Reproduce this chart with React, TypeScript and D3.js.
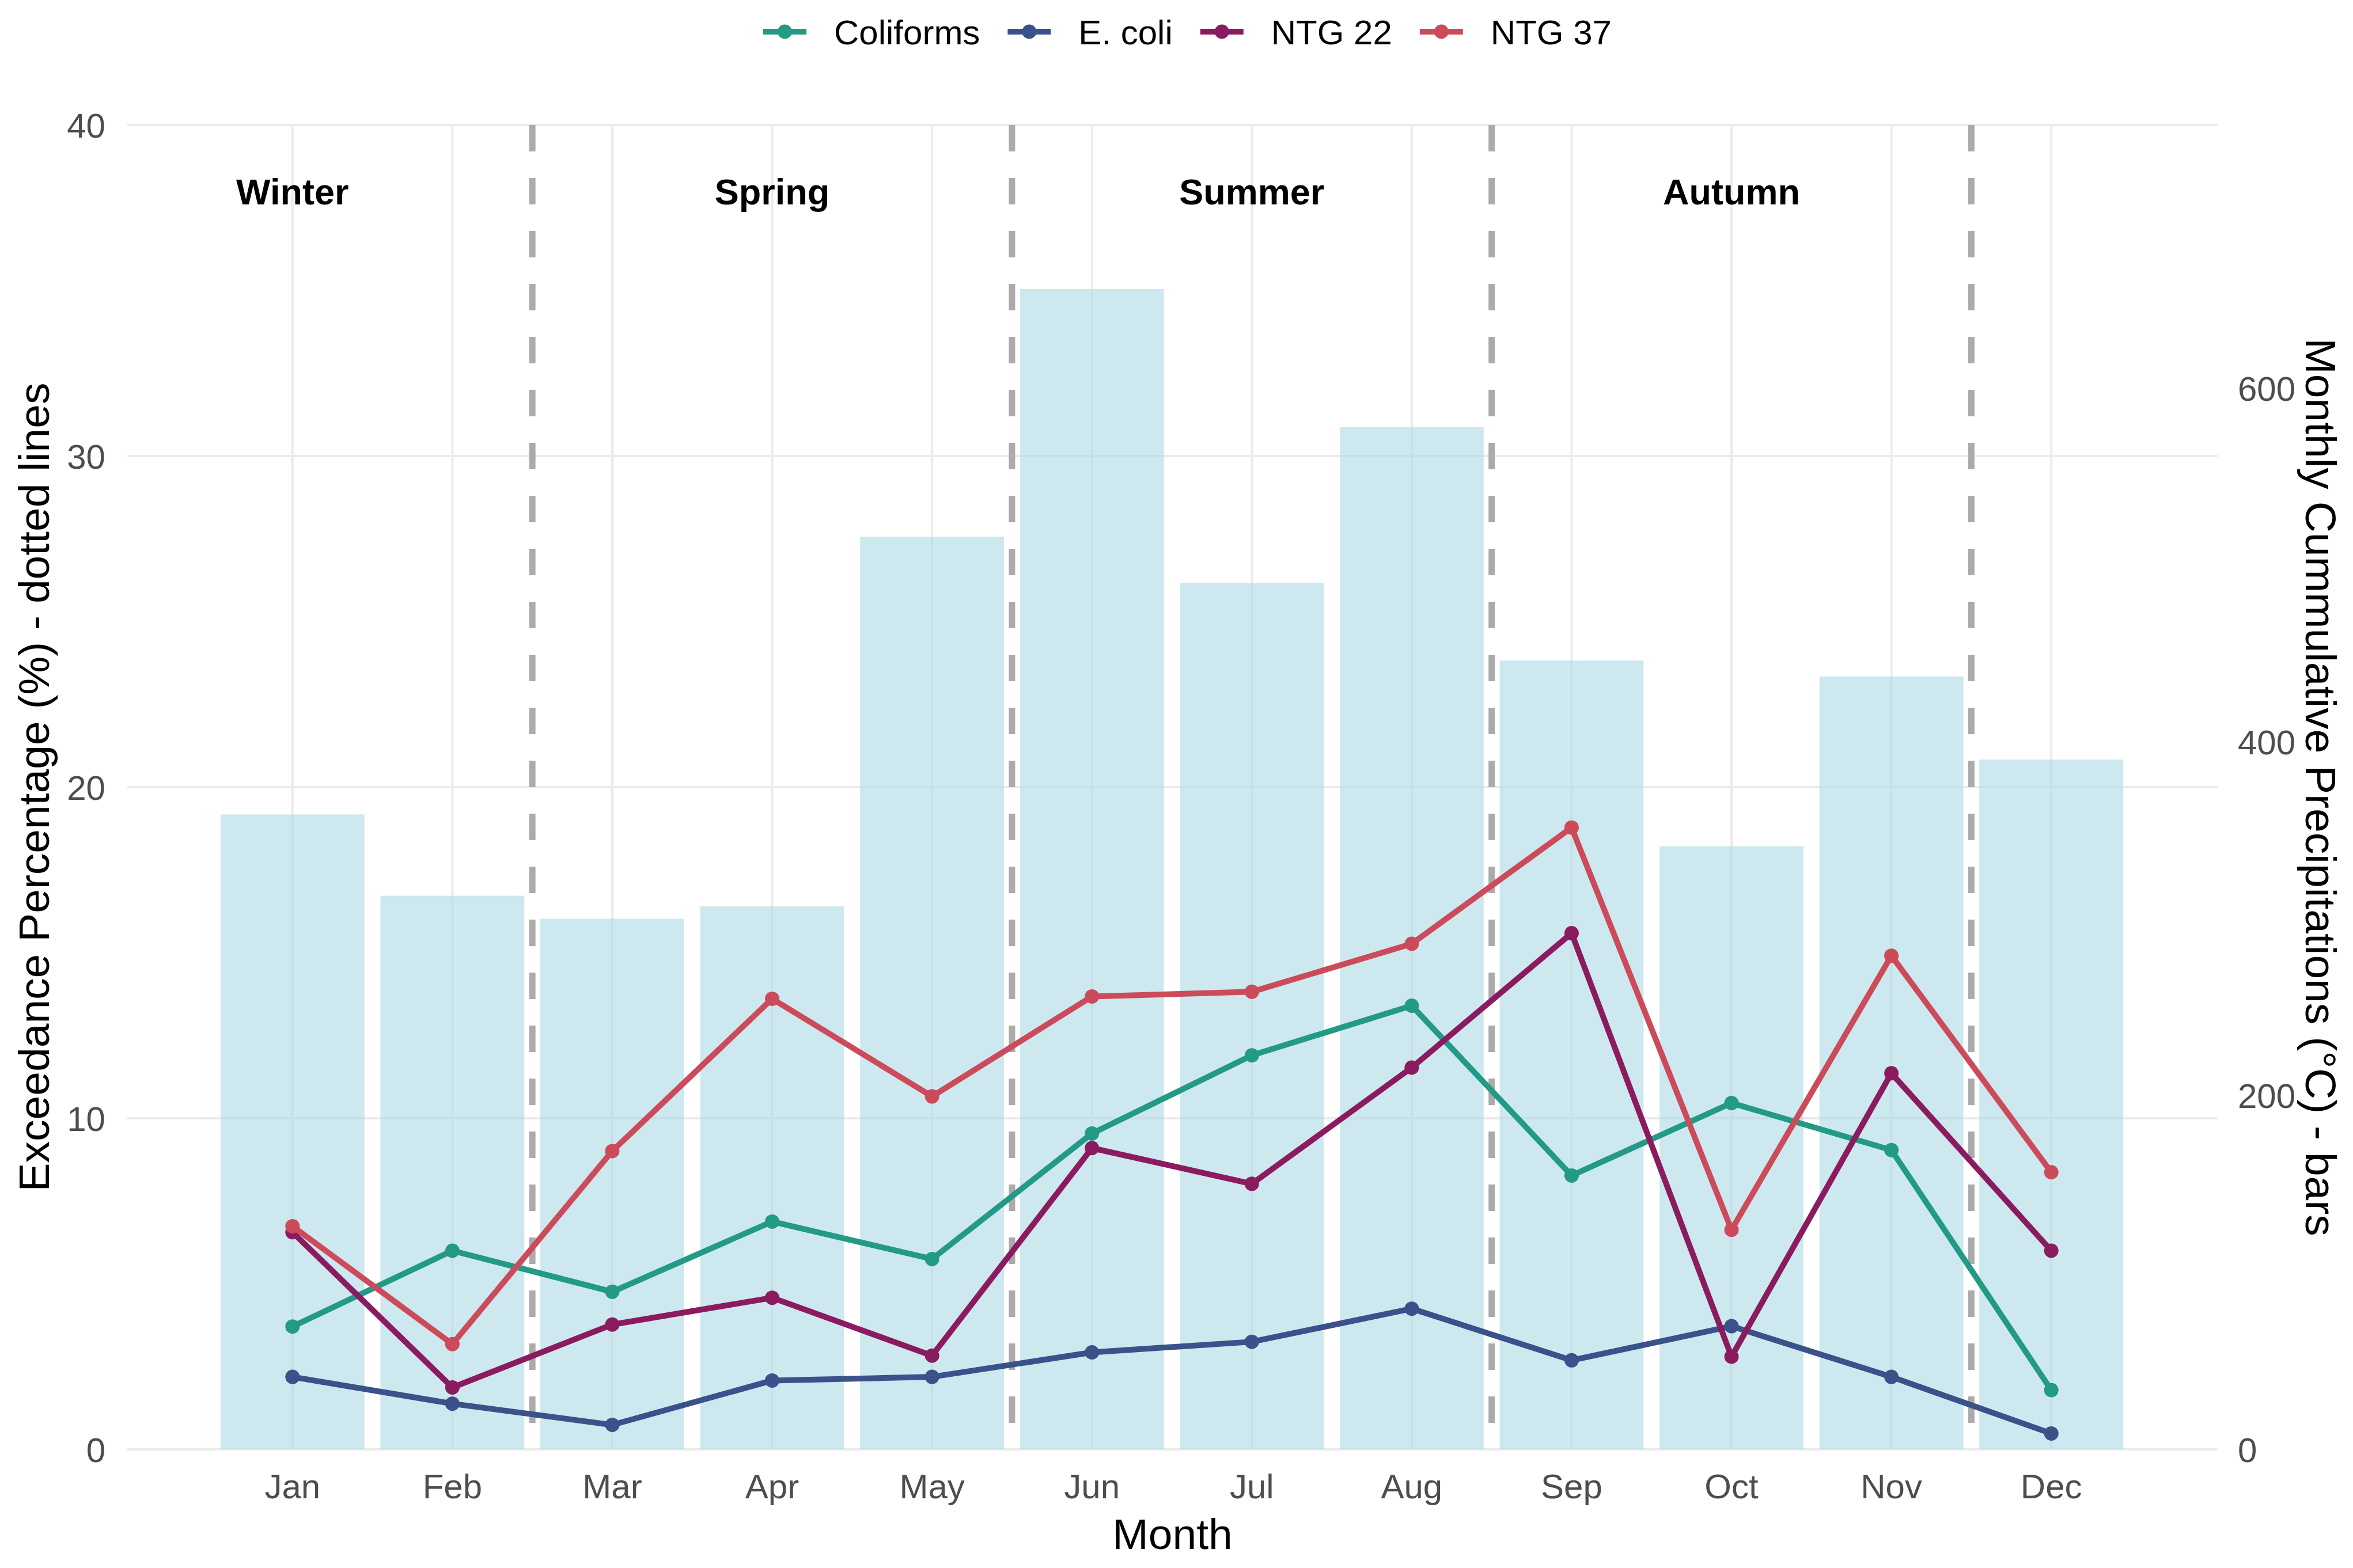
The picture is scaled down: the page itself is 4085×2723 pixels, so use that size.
import * as d3 from 'd3';
import React, { useEffect } from 'react';

const months = ['Jan', 'Feb', 'Mar', 'Apr', 'May', 'Jun', 'Jul', 'Aug', 'Sep', 'Oct', 'Nov', 'Dec'];
// monthly cumulative precipitation (right axis)
const precipitation = [359, 313, 300, 307, 516, 656, 490, 578, 446, 341, 437, 390];
// exceedance percentages (left axis)
const coliforms = [3.71, 6.0, 4.76, 6.88, 5.75, 9.54, 11.9, 13.4, 8.27, 10.46, 9.04, 1.79];
const eColi = [2.19, 1.38, 0.74, 2.08, 2.19, 2.93, 3.25, 4.25, 2.69, 3.72, 2.19, 0.48];
const ntg22 = [6.56, 1.87, 3.77, 4.58, 2.83, 9.1, 8.02, 11.53, 15.59, 2.8, 11.36, 6.0];
const ntg37 = [6.74, 3.18, 9.01, 13.61, 10.66, 13.68, 13.82, 15.27, 18.78, 6.63, 14.91, 8.37];

const seriesNames = ['Coliforms', 'E. coli', 'NTG 22', 'NTG 37'];
const seriesColors = ['#229a86', '#3b518a', '#8b1b60', '#cb4b5b'];

const seasonLabels = ['Winter', 'Spring', 'Summer', 'Autumn'];
const seasonMonths = ['Jan', 'Apr', 'Jul', 'Oct'];
const seasonBreaks = ['Feb', 'May', 'Aug', 'Nov'];

const leftTicks = [0, 10, 20, 30, 40];
const rightTicks = [0, 200, 400, 600];

const W = 4085;
const H = 2723;
const FONT = '"Liberation Sans", Arial, sans-serif';

export default function App() {
  const ref = React.useRef<HTMLDivElement>(null);

  useEffect(() => {
    if (!ref.current) return;
    ref.current.innerHTML = '';

    const panel = { left: 221, right: 3850, top: 217, bottom: 2517 };

    const svg = d3
      .select(ref.current)
      .append('svg')
      .attr('width', W)
      .attr('height', H)
      .style('display', 'block')
      .style('font-family', FONT);

    svg.append('rect').attr('width', W).attr('height', H).attr('fill', '#ffffff');

    const x = d3
      .scaleBand<string>()
      .domain(months)
      .range([369, 3700])
      .paddingInner(0.1)
      .paddingOuter(0.05);
    const cx = (m: string) => (x(m) ?? 0) + x.bandwidth() / 2;

    const y = d3.scaleLinear().domain([0, 40]).range([panel.bottom, panel.top]);
    // secondary axis: precipitation = percentage * 18.72
    const yRight = d3.scaleLinear().domain([0, 40 * 18.72]).range([panel.bottom, panel.top]);

    // Gridlines
    const grid = svg.append('g').attr('stroke', '#ebebeb').attr('stroke-width', 4);
    grid
      .selectAll('line.h')
      .data(leftTicks)
      .enter()
      .append('line')
      .attr('x1', panel.left)
      .attr('x2', panel.right)
      .attr('y1', d => y(d))
      .attr('y2', d => y(d));
    grid
      .selectAll('line.v')
      .data(months)
      .enter()
      .append('line')
      .attr('x1', d => cx(d))
      .attr('x2', d => cx(d))
      .attr('y1', panel.top)
      .attr('y2', panel.bottom);

    // Bars
    svg
      .append('g')
      .selectAll('rect')
      .data(precipitation)
      .enter()
      .append('rect')
      .attr('x', (d, i) => x(months[i]) ?? 0)
      .attr('width', x.bandwidth())
      .attr('y', d => yRight(d))
      .attr('height', d => yRight(0) - yRight(d))
      .attr('fill', 'lightblue')
      .attr('fill-opacity', 0.6);

    // Season separators
    svg
      .append('g')
      .selectAll('line')
      .data(seasonBreaks)
      .enter()
      .append('line')
      .attr('x1', d => cx(d) + x.step() / 2)
      .attr('x2', d => cx(d) + x.step() / 2)
      .attr('y1', panel.top)
      .attr('y2', panel.bottom)
      .attr('stroke', '#ababab')
      .attr('stroke-width', 11)
      .attr('stroke-dasharray', '46,46');

    // Lines + points
    const allSeries = [coliforms, eColi, ntg22, ntg37];
    const line = d3
      .line<number>()
      .x((d, i) => cx(months[i]))
      .y(d => y(d));
    allSeries.forEach((values, k) => {
      const g = svg.append('g');
      g.append('path')
        .attr('d', line(values))
        .attr('fill', 'none')
        .attr('stroke', seriesColors[k])
        .attr('stroke-width', 10)
        .attr('stroke-linejoin', 'round');
      g.selectAll('circle')
        .data(values)
        .enter()
        .append('circle')
        .attr('cx', (d, i) => cx(months[i]))
        .attr('cy', d => y(d))
        .attr('r', 12.5)
        .attr('fill', seriesColors[k]);
    });

    // Season labels
    svg
      .append('g')
      .selectAll('text')
      .data(seasonLabels)
      .enter()
      .append('text')
      .attr('x', (d, i) => cx(seasonMonths[i]))
      .attr('y', 355)
      .attr('text-anchor', 'middle')
      .attr('font-size', 63)
      .attr('font-weight', 'bold')
      .attr('fill', '#000')
      .text(d => d);

    // Left axis labels
    svg
      .append('g')
      .selectAll('text')
      .data(leftTicks)
      .enter()
      .append('text')
      .attr('x', 183)
      .attr('y', d => y(d))
      .attr('dy', '0.36em')
      .attr('text-anchor', 'end')
      .attr('font-size', 60)
      .attr('fill', '#4d4d4d')
      .text(d => d);

    // Right axis labels
    svg
      .append('g')
      .selectAll('text')
      .data(rightTicks)
      .enter()
      .append('text')
      .attr('x', 3885)
      .attr('y', d => yRight(d))
      .attr('dy', '0.36em')
      .attr('text-anchor', 'start')
      .attr('font-size', 60)
      .attr('fill', '#4d4d4d')
      .text(d => d);

    // X axis labels
    svg
      .append('g')
      .selectAll('text')
      .data(months)
      .enter()
      .append('text')
      .attr('x', d => cx(d))
      .attr('y', 2602)
      .attr('text-anchor', 'middle')
      .attr('font-size', 60)
      .attr('fill', '#4d4d4d')
      .text(d => d);

    // Axis titles
    const midY = (panel.top + panel.bottom) / 2;
    svg
      .append('text')
      .attr('x', (panel.left + panel.right) / 2)
      .attr('y', 2690)
      .attr('text-anchor', 'middle')
      .attr('font-size', 75)
      .attr('fill', '#000')
      .text('Month');
    svg
      .append('text')
      .attr('transform', `translate(85,${midY}) rotate(-90)`)
      .attr('text-anchor', 'middle')
      .attr('font-size', 75)
      .attr('fill', '#000')
      .text('Exceedance Percentage (%) - dotted lines');
    svg
      .append('text')
      .attr('transform', `translate(4003,${midY}) rotate(90)`)
      .attr('text-anchor', 'middle')
      .attr('font-size', 75)
      .attr('fill', '#000')
      .text('Monthly Cummulative Precipitations (°C) - bars');

    // Legend
    const legend = svg.append('g');
    let lx = 1325;
    seriesNames.forEach((name, k) => {
      legend
        .append('line')
        .attr('x1', lx)
        .attr('x2', lx + 75)
        .attr('y1', 55)
        .attr('y2', 55)
        .attr('stroke', seriesColors[k])
        .attr('stroke-width', 10);
      legend
        .append('circle')
        .attr('cx', lx + 37.5)
        .attr('cy', 55)
        .attr('r', 12.5)
        .attr('fill', seriesColors[k]);
      const t = legend
        .append('text')
        .attr('x', lx + 123)
        .attr('y', 77)
        .attr('font-size', 60)
        .attr('fill', '#000')
        .text(name);
      const w = (t.node() as SVGTextElement).getComputedTextLength();
      lx = lx + 123 + w + 48;
    });
  }, []);

  return <div ref={ref} style={{ position: 'absolute', left: 0, top: 0 }}></div>;
}
